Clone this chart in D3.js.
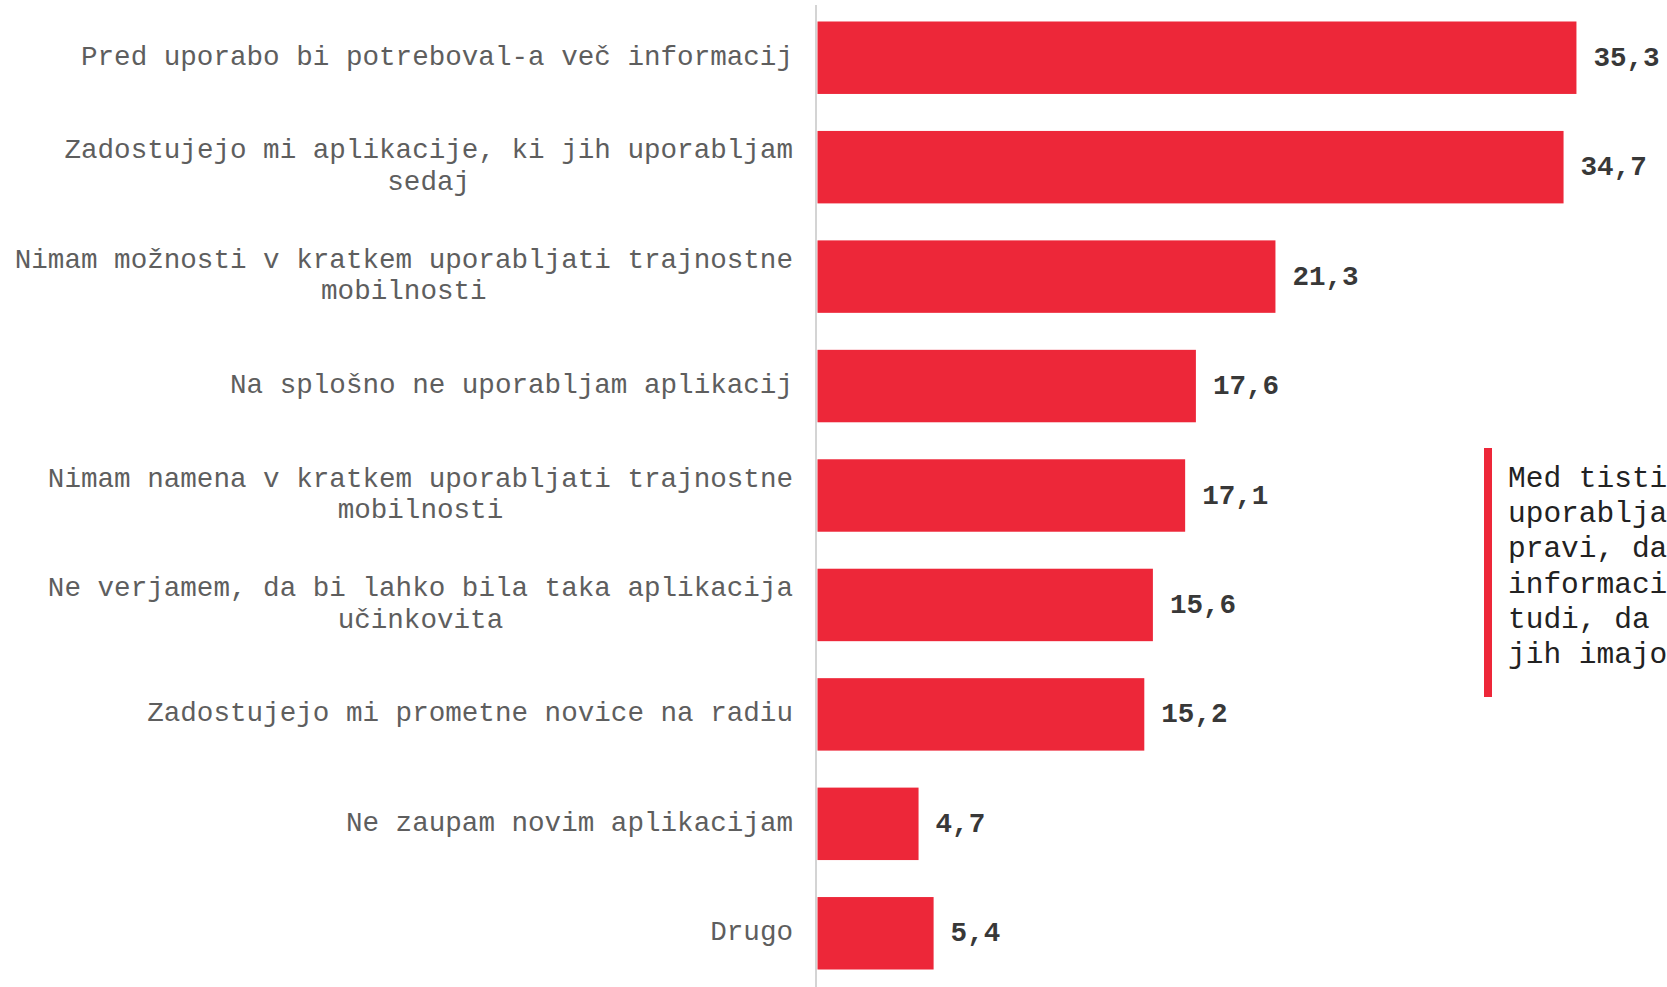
<!DOCTYPE html>
<html>
<head>
<meta charset="utf-8">
<script src="https://cdn.jsdelivr.net/npm/d3@7"></script>
<style>
  html, body { margin: 0; padding: 0; background: #ffffff; overflow: hidden; }
  svg { display: block; }
</style>
</head>
<body>
<svg id="chart" width="1667" height="987"></svg>
<script>
// Reasons for not using a sustainable-mobility app (% of respondents)
const categories = [
  "Pred uporabo bi potreboval-a več informacij",
  "Zadostujejo mi aplikacije, ki jih uporabljam sedaj",
  "Nimam možnosti v kratkem uporabljati trajnostne mobilnosti",
  "Na splošno ne uporabljam aplikacij",
  "Nimam namena v kratkem uporabljati trajnostne mobilnosti",
  "Ne verjamem, da bi lahko bila taka aplikacija učinkovita",
  "Zadostujejo mi prometne novice na radiu",
  "Ne zaupam novim aplikacijam",
  "Drugo"
];
const values = [35.3, 34.7, 21.3, 17.6, 17.1, 15.6, 15.2, 4.7, 5.4];

// Side note next to the bars (runs past the right edge of the page)
const noteLines = [
  "Med tistimi, ki aplikacij ne",
  "uporabljajo, jih največ",
  "pravi, da bi potrebovali več",
  "informacij, veliko pa",
  "tudi, da zadostujejo tiste,",
  "jih imajo že zdaj."
];

const W = 1667, H = 987;
const svg = d3.select("#chart");

const fontFamily = "'Liberation Mono', 'Courier New', monospace";
const barColor = "#ed2739";

const x = d3.scaleLinear().domain([0, 40]).range([817.5, 817.5 + 40 * 21.5]);
const y = d3.scaleBand()
  .domain(categories)
  .range([3, 988])
  .paddingInner(0.338)
  .paddingOuter(0.169);

const sl = d3.formatLocale({ decimal: ",", thousands: ".", grouping: [3], currency: ["", " €"] });
const fmt = sl.format(".1f");

// Bars
svg.append("g")
  .selectAll("rect")
  .data(values)
  .join("rect")
  .attr("x", x(0))
  .attr("y", (d, i) => y(categories[i]))
  .attr("width", d => x(d) - x(0))
  .attr("height", y.bandwidth())
  .attr("fill", barColor);

// Vertical baseline
svg.append("line")
  .attr("x1", 816).attr("x2", 816)
  .attr("y1", 5).attr("y2", H)
  .attr("stroke", "#d4d4d4")
  .attr("stroke-width", 2);

// Value labels
svg.append("g")
  .selectAll("text")
  .data(values)
  .join("text")
  .attr("x", d => x(d) + 17)
  .attr("y", (d, i) => y(categories[i]) + y.bandwidth() / 2 + 0.5)
  .attr("dominant-baseline", "central")
  .attr("font-family", fontFamily)
  .attr("font-size", "27.6px")
  .attr("font-weight", "bold")
  .attr("fill", "#383838")
  .text(d => fmt(d));

// Category labels: block right-aligned to the axis, lines centred on each other
const labelRight = 793;
const maxLabelWidth = 790;
const lineH = 31.5;
const labelG = svg.append("g");

function measure(str) {
  const t = labelG.append("text")
    .attr("font-family", fontFamily)
    .attr("font-size", "27.6px")
    .text(str);
  const w = t.node().getComputedTextLength();
  t.remove();
  return w;
}

categories.forEach(cat => {
  const words = cat.split(" ");
  const lines = [];
  let cur = "";
  words.forEach(wd => {
    const test = cur ? cur + " " + wd : wd;
    if (cur && measure(test) > maxLabelWidth) {
      lines.push(cur);
      cur = wd;
    } else {
      cur = test;
    }
  });
  if (cur) lines.push(cur);
  const blockW = d3.max(lines, measure);
  const cx = labelRight - blockW / 2;
  const cy = y(cat) + y.bandwidth() / 2 - 1;
  const t = labelG.append("text")
    .attr("font-family", fontFamily)
    .attr("font-size", "27.6px")
    .attr("fill", "#5e5e5e")
    .attr("text-anchor", "middle")
    .attr("dominant-baseline", "central");
  lines.forEach((ln, i) => {
    t.append("tspan")
      .attr("x", cx)
      .attr("y", cy + (i - (lines.length - 1) / 2) * lineH)
      .text(ln);
  });
});

// Side note with red accent bar
const note = svg.append("g");
note.append("rect")
  .attr("x", 1484).attr("y", 448)
  .attr("width", 8).attr("height", 249)
  .attr("fill", barColor);
const noteText = note.append("text")
  .attr("font-family", fontFamily)
  .attr("font-size", "29.5px")
  .attr("fill", "#222222")
  .attr("dominant-baseline", "central");
noteLines.forEach((ln, i) => {
  noteText.append("tspan")
    .attr("x", 1508)
    .attr("y", 479 + i * 35.2)
    .text(ln);
});
</script>
</body>
</html>
